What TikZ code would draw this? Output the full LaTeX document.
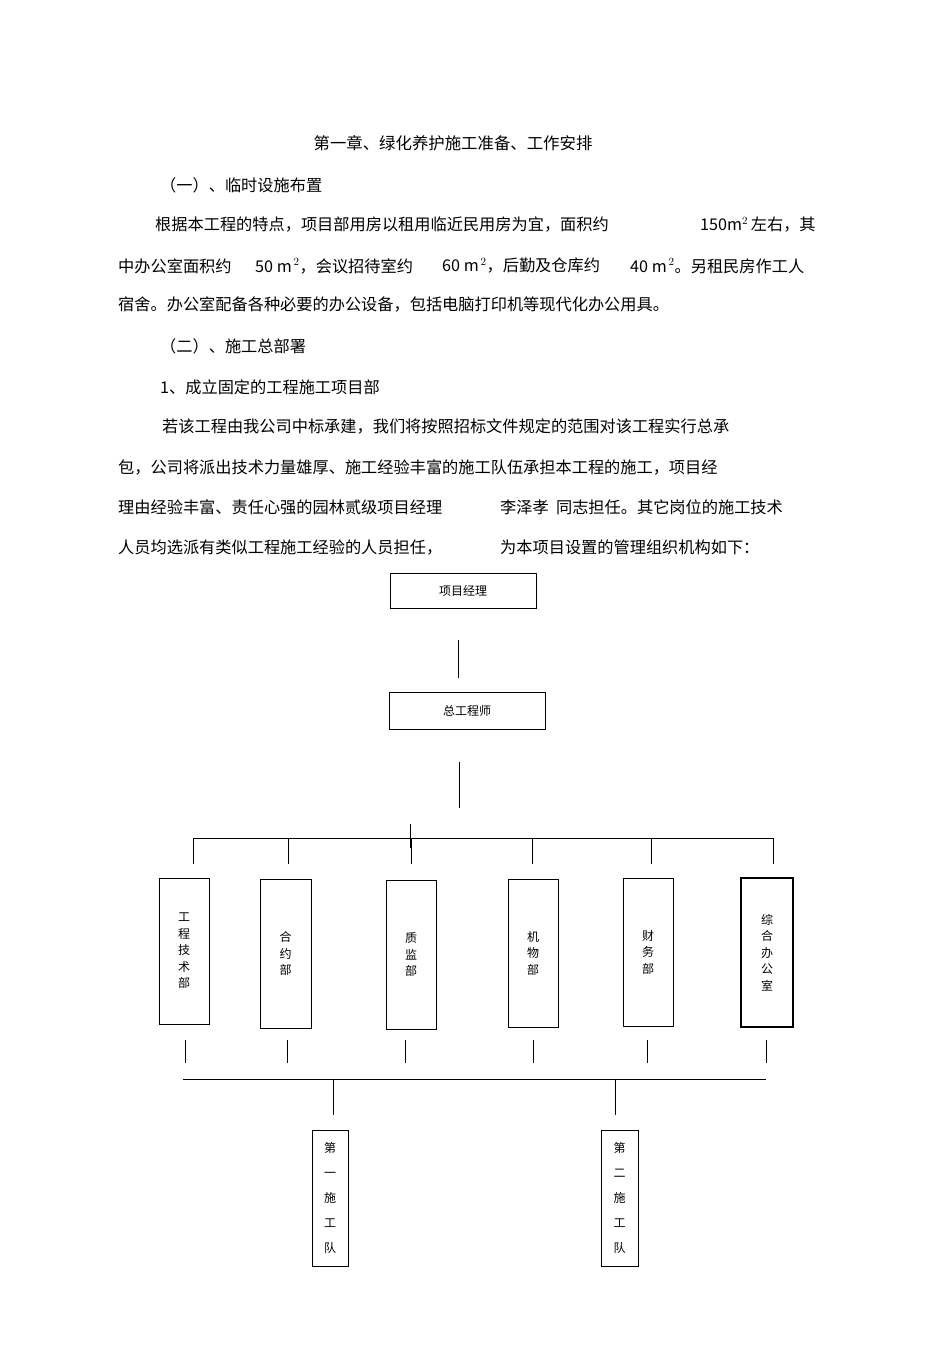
\documentclass[tikz,border=0pt]{standalone}
\usepackage{fontspec}
\setmainfont{Liberation Sans}
\newfontfamily\cjk{Noto Sans CJK SC}
\begin{document}
\begin{tikzpicture}[x=1pt,y=-1pt,
  body/.style={anchor=west,inner sep=0pt,font=\cjk\fontsize{16.2}{16}\selectfont},
  box/.style={draw,thick,inner sep=0pt,font=\cjk\fontsize{12}{12}\selectfont},
  vbox/.style={draw,thick,inner sep=0pt,align=center,font=\cjk\fontsize{12}{16.5}\selectfont},
  tbox/.style={draw,thick,inner sep=0pt,align=center,font=\cjk\fontsize{12}{25}\selectfont},
  ln/.style={thick}]
\useasboundingbox (0,0) rectangle (950,1345);
\node[anchor=center,inner sep=0pt,font=\cjk\fontsize{16.4}{16}\selectfont] (title) at (453,143) {第一章、绿化养护施工准备、工作安排};
\node[body] (s1) at (160,185) {（一）、临时设施布置};
\node[body] (p1a) at (155,225) {根据本工程的特点，项目部用房以租用临近民用房为宜，面积约};
\node[body] (p1b) at (700,225) {150m$^{2}$\,左右，其};
\node[body] (p2a) at (118,266) {中办公室面积约};
\node[body] (p2b) at (255,266) {50 m$^{\,2}$，会议招待室约};
\node[body] (p2c) at (442,266) {60 m$^{\,2}$，后勤及仓库约};
\node[body] (p2d) at (630,266) {40 m$^{\,2}$。另租民房作工人};
\node[body] (p3) at (118,304) {宿舍。办公室配备各种必要的办公设备，包括电脑打印机等现代化办公用具。};
\node[body] (s2) at (160,346) {（二）、施工总部署};
\node[body] (s3) at (160,387) {1、成立固定的工程施工项目部};
\node[body] (q1) at (162,426) {若该工程由我公司中标承建，我们将按照招标文件规定的范围对该工程实行总承};
\node[body] (q2) at (118,467) {包，公司将派出技术力量雄厚、施工经验丰富的施工队伍承担本工程的施工，项目经};
\node[body] (q3a) at (118,507) {理由经验丰富、责任心强的园林贰级项目经理};
\node[body] (q3b) at (500,507) {李泽孝\ \ 同志担任。其它岗位的施工技术};
\node[body] (q4a) at (118,547) {人员均选派有类似工程施工经验的人员担任，};
\node[body] (q4b) at (500,547) {为本项目设置的管理组织机构如下：};
% chart
\node[box,minimum width=146,minimum height=35] (pm) at (463,591) {项目经理};
\node[box,minimum width=156,minimum height=37] (ce) at (467,711) {总工程师};
\draw[ln] (458,640) coordinate (a1) -- (458,678) coordinate (a2);
\draw[ln] (459,762) coordinate (b1) -- (459,808) coordinate (b2);
\draw[ln] (410,824) coordinate (c1) -- (410,848) coordinate (c2);
\draw[ln] (193,838) coordinate (h1) -- (773,838) coordinate (h2);
\foreach \x/\n in {193/d1,288/d2,411/d3,532/d4,651/d5,773/d6}
  \draw[ln] (\x,838) -- (\x,864) coordinate (\n);
\node[vbox,minimum width=50,minimum height=146] (g1) at (184,951) {工\\程\\技\\术\\部};
\node[vbox,minimum width=51,minimum height=149] (g2) at (285.5,953.5) {合\\约\\部};
\node[vbox,minimum width=50,minimum height=149] (g3) at (411,954.5) {质\\监\\部};
\node[vbox,minimum width=50,minimum height=148] (g4) at (533,953) {机\\物\\部};
\node[vbox,minimum width=50,minimum height=148] (g5) at (648,952) {财\\务\\部};
\node[vbox,minimum width=52,minimum height=149,line width=1.2pt] (g6) at (767,952.5) {综\\合\\办\\公\\室};
\foreach \x/\n in {185/e1,287/e2,405/e3,533/e4,647/e5,766/e6}
  \draw[ln] (\x,1040) -- (\x,1063) coordinate (\n);
\draw[ln] (183,1079) coordinate (k1) -- (766,1079) coordinate (k2);
\draw[ln] (333,1079) -- (333,1115) coordinate (m1);
\draw[ln] (615,1079) -- (615,1115) coordinate (m2);
\node[tbox,minimum width=36,minimum height=136] (t1) at (330,1198) {第\\一\\施\\工\\队};
\node[tbox,minimum width=37,minimum height=136] (t2) at (619.5,1198) {第\\二\\施\\工\\队};
\end{tikzpicture}
\end{document}
